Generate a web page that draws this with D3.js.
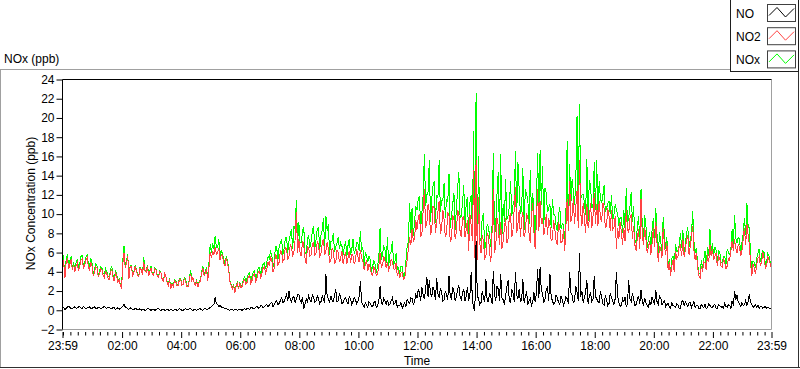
<!DOCTYPE html>
<html><head><meta charset="utf-8">
<script src="https://cdn.jsdelivr.net/npm/d3@7"></script>
<style>
html,body{margin:0;padding:0;background:#fff;}
svg{display:block;font-family:"Liberation Sans",Arial,sans-serif;}
</style></head><body>
<svg id="chart" width="800" height="369"></svg>
<script>
// Readings every 5 minutes from 23:59 to 23:59 next day (…Slot arrays),
// plus the readings half-way between two slots (…Half arrays).
const stepMinutes = 5;

const NOSlot = [
0.45,0.1,0.35,0.3,0.2,0.35,0.25,0.4,0.2,0.3,0.25,0.35,
0.2,0.35,0.15,0.3,0.2,0.4,0.2,0.3,0.15,0.25,0.2,0.1,
0.3,0.6,0.25,0.1,0.2,0.05,0.15,0.1,0.0,0.1,0.05,0.15,
0.0,0.1,0.05,0.15,-0.05,0.1,0.0,0.05,0.1,-0.05,0.1,0.05,
0.1,0.0,0.15,0.05,0.2,-0.1,0.1,0.05,0.15,0.0,0.2,0.1,
0.3,0.5,1.4,0.6,0.5,0.3,0.2,0.1,0.0,0.1,0.05,0.0,
0.1,0.0,0.15,0.2,0.1,0.3,0.2,0.4,0.3,0.5,0.35,0.6,
0.5,0.8,0.6,1.0,0.7,1.3,0.9,1.6,2.0,0.9,1.4,1.2,
1.7,0.8,0.1,1.2,1.5,0.9,1.4,1.0,1.2,0.9,1.1,3.8,
1.2,1.5,0.9,2.2,1.0,1.4,0.8,1.3,0.7,1.2,0.9,1.1,
0.9,3.0,0.6,0.8,0.3,0.7,0.4,0.9,0.5,2.5,0.6,1.0,
1.1,0.6,1.3,0.7,0.3,0.5,0.2,0.8,1.1,0.7,1.2,0.9,
1.3,1.8,2.4,1.2,3.5,3.1,1.4,2.0,3.3,1.3,1.9,1.1,
1.6,3.6,1.2,2.0,1.4,2.6,1.1,2.2,1.5,1.0,4.0,0.2,
7.2,1.2,0.8,1.3,3.2,0.9,1.4,4.1,1.0,2.2,3.8,1.1,
1.5,3.1,0.8,1.8,4.0,1.2,0.9,3.3,1.4,0.6,1.2,0.8,
0.9,4.3,4.5,1.8,1.2,2.4,3.8,1.0,0.7,1.3,0.6,1.1,
0.8,1.2,4.0,1.6,1.0,1.9,6.0,2.0,1.3,3.1,1.5,0.9,
3.6,1.2,0.8,1.4,0.5,1.1,0.7,1.3,0.6,4.0,0.8,0.5,
0.9,0.4,3.1,0.9,1.2,0.6,1.5,2.1,0.5,0.8,0.3,0.6,
1.0,2.1,0.6,1.3,0.8,0.4,0.7,0.2,0.5,0.3,0.6,0.2,
1.0,0.9,0.4,0.8,0.6,0.3,0.5,0.2,0.4,0.6,0.3,0.5,
0.3,0.6,0.2,0.5,0.4,0.7,0.3,0.5,1.0,2.0,1.6,0.7,
0.8,0.6,0.5,1.7,0.6,0.4,0.3,0.2,0.4,0.3,0.2,0.25,
0.3];

const NOHalf = [
0.25,0.2,0.4,0.15,0.3,0.2,0.35,0.25,0.4,0.15,0.3,0.2,
0.3,0.2,0.3,0.15,0.3,0.25,0.35,0.2,0.3,0.1,0.25,0.2,
0.45,0.35,0.15,0.25,0.1,0.2,0.05,0.15,0.1,0.0,0.15,0.05,
0.1,0.0,0.15,0.05,0.1,0.0,0.1,-0.05,0.05,0.1,0.0,0.15,
0.0,0.1,0.05,0.15,0.05,0.1,0.0,0.15,0.05,0.15,0.05,0.2,
0.4,0.6,0.7,0.4,0.35,0.25,0.15,0.05,0.1,0.0,0.1,0.05,
0.05,0.1,0.05,0.15,0.25,0.15,0.3,0.2,0.45,0.25,0.5,0.4,
0.7,0.4,0.9,0.6,1.0,0.8,1.2,1.0,1.1,1.3,0.8,1.6,
1.0,1.4,0.6,0.9,1.1,1.6,0.8,1.5,0.7,1.5,0.8,1.4,
0.8,1.0,1.6,0.9,1.7,0.7,1.2,0.9,1.4,0.6,1.3,0.7,
1.4,0.8,0.3,0.6,0.9,0.4,0.8,0.3,1.0,0.8,1.2,0.6,
0.5,1.0,0.6,1.1,0.5,0.8,0.5,0.4,0.9,1.3,0.6,1.6,
2.2,1.0,1.6,2.2,1.4,1.8,2.4,1.1,1.7,2.3,1.0,2.0,
1.1,1.4,2.4,1.0,2.2,1.4,1.8,1.0,2.4,1.6,1.2,0.0,
1.5,0.6,2.0,0.9,1.0,1.8,0.7,1.6,2.5,1.0,1.3,0.6,
2.4,1.0,2.2,0.9,1.6,2.2,1.0,0.8,2.0,1.0,0.5,1.9,
1.8,1.3,2.0,0.8,2.2,1.0,1.4,0.6,1.6,0.8,1.5,0.5,
1.4,0.7,1.8,0.8,2.5,1.0,1.4,0.8,1.9,0.7,1.8,1.2,
1.4,0.9,2.0,0.7,1.6,0.5,1.8,0.9,1.2,1.5,0.4,1.2,
1.4,0.7,1.2,1.8,0.5,1.1,0.7,0.9,1.3,0.5,0.9,1.4,
0.6,0.9,1.5,0.6,1.0,0.6,0.3,0.8,0.4,0.7,0.2,0.9,
0.5,0.6,0.8,0.3,0.9,0.5,0.2,0.6,0.3,0.2,0.7,0.3,
0.5,0.2,0.6,0.3,0.2,0.4,0.6,0.2,0.5,1.1,0.8,0.4,
0.5,1.0,0.9,0.8,0.3,0.6,0.5,0.4,0.2,0.4,0.3,0.2];

const NO2Slot = [
5.6,3.4,5.4,4.8,4.2,4.0,4.9,4.6,5.3,4.7,5.5,4.2,
4.6,3.9,4.4,3.7,4.2,3.4,3.8,3.2,4.3,3.0,3.6,3.2,
2.2,6.0,4.9,3.3,4.5,3.9,4.1,3.5,4.2,5.0,4.0,3.6,
4.4,3.6,4.2,3.4,3.9,3.0,3.5,2.6,2.2,2.5,3.0,2.6,
3.2,2.7,3.0,2.4,3.8,3.4,2.6,2.4,3.0,4.4,3.8,3.1,
6.1,6.2,6.6,6.0,5.2,5.6,4.6,5.0,3.0,2.2,1.8,2.8,
2.8,2.5,3.2,2.9,3.6,3.1,3.8,3.3,4.0,3.8,4.5,4.3,
4.6,5.3,4.4,5.6,5.0,6.0,5.3,6.4,5.6,6.6,6.0,10.2,
7.4,5.6,6.8,4.8,6.5,5.8,7.0,6.0,6.8,5.9,7.4,6.2,
6.4,5.2,6.2,5.0,6.0,5.4,4.8,6.1,5.5,4.9,5.7,5.2,
5.6,6.3,5.2,4.7,4.1,4.4,3.6,4.2,3.8,6.0,4.7,5.1,
5.0,4.5,5.1,4.2,3.6,3.4,3.9,3.3,5.2,7.6,8.4,7.4,
8.4,10.0,8.0,12.6,9.0,10.2,8.4,10.6,9.2,11.4,8.6,9.4,
8.0,9.8,7.4,9.6,8.2,10.0,7.6,9.8,8.4,6.2,8.8,14.6,
15.6,11.8,6.0,7.2,5.6,7.8,5.0,12.6,6.6,8.8,9.2,7.2,
9.6,7.4,10.0,8.4,12.8,9.0,7.6,10.2,8.2,9.8,7.0,11.2,
6.4,12.6,11.4,9.6,8.6,7.8,8.8,7.4,8.4,6.8,8.6,7.2,
6.2,11.6,13.4,9.8,9.0,12.4,15.6,8.8,9.6,11.0,9.4,8.6,
12.2,11.0,11.4,9.2,10.6,8.8,9.8,10.4,8.6,6.4,7.4,8.2,
8.6,10.4,8.0,10.0,8.8,6.2,8.4,11.6,6.8,7.4,6.6,5.8,
8.6,9.2,5.0,6.4,8.6,5.8,4.2,3.6,5.2,6.2,5.6,6.8,
7.4,6.2,7.8,6.6,8.8,5.2,4.4,3.4,4.0,4.9,5.8,6.8,
6.4,5.6,4.6,5.4,4.5,5.0,4.6,5.2,7.2,7.4,6.0,6.6,
6.2,8.6,9.0,6.8,3.6,4.4,4.8,5.6,5.0,5.4,4.6,5.2,
4.4];

const NO2Half = [
4.8,5.0,4.3,5.3,4.7,4.6,4.1,5.2,4.4,5.2,4.5,5.0,
3.6,4.5,3.5,4.3,3.6,4.0,3.3,3.9,3.5,3.9,2.9,2.6,
4.8,4.4,5.6,4.6,3.6,4.6,3.6,4.4,3.7,4.1,4.6,4.0,
3.7,4.3,3.5,4.0,3.2,3.8,2.9,3.2,2.7,3.1,2.5,3.2,
2.6,3.3,2.5,3.1,3.1,2.8,3.0,2.9,3.8,3.6,4.3,4.5,
5.4,5.8,5.8,6.5,5.8,4.9,5.4,4.2,2.6,2.6,2.4,2.2,
2.3,3.0,2.7,3.5,2.8,3.7,3.0,4.0,3.4,4.4,3.9,5.0,
5.5,4.0,5.8,4.7,6.2,5.1,6.5,5.2,6.8,5.6,7.4,6.0,
6.0,7.2,5.4,6.6,5.6,6.9,5.7,7.2,5.6,7.0,5.8,7.1,
5.0,6.4,4.9,6.3,5.0,6.2,5.6,4.8,6.2,5.8,4.8,6.4,
5.0,5.4,4.2,5.2,4.8,3.7,4.5,3.6,4.6,4.5,5.6,4.4,
4.2,5.3,4.3,4.9,4.0,3.9,3.2,4.4,6.4,6.8,7.2,9.4,
9.6,7.6,10.4,8.6,11.0,7.8,10.8,8.0,10.2,7.9,10.4,7.6,
10.2,7.2,9.8,7.4,10.4,8.2,9.6,7.6,9.4,10.0,7.2,5.4,
5.2,7.0,7.8,5.4,8.0,6.0,8.2,6.0,9.6,6.8,6.4,8.6,
7.0,9.8,7.6,10.6,8.0,10.4,9.4,7.6,10.0,8.0,9.6,8.2,
9.2,8.2,9.0,7.8,10.0,9.6,7.2,9.4,7.2,9.2,7.0,8.4,
8.8,8.2,9.2,11.6,10.8,8.6,10.2,11.2,8.0,8.6,11.2,9.8,
9.0,8.8,9.6,11.2,8.6,10.6,8.2,8.4,9.8,8.6,9.2,6.8,
7.2,8.4,9.6,7.4,6.8,7.6,6.4,8.0,8.6,6.0,7.2,7.0,
6.6,7.0,6.6,5.4,6.8,7.0,5.0,4.6,4.0,5.4,6.6,5.6,
5.6,7.4,5.8,7.6,6.2,6.0,3.6,4.6,5.0,4.2,5.0,5.6,
5.2,6.0,5.6,4.6,5.4,4.3,5.4,6.2,6.2,6.4,6.8,5.6,
7.4,6.8,7.8,4.8,4.8,3.8,5.4,4.6,6.0,4.4,5.6,4.8];

const NOxSlot = [
6.2,3.6,5.8,5.2,4.4,4.3,5.3,4.9,5.7,5.0,5.8,4.6,
4.9,4.3,4.6,4.0,4.4,3.8,4.0,3.5,4.6,3.2,3.8,3.3,
2.5,6.7,5.2,3.4,4.7,4.0,4.3,3.6,4.2,5.5,4.1,3.8,
4.6,3.7,4.3,3.6,3.9,3.1,3.5,2.7,2.3,2.5,3.1,2.7,
3.3,2.7,3.2,2.5,4.2,3.4,2.7,2.5,3.2,4.6,4.0,3.2,
6.9,7.0,7.7,6.5,5.5,5.8,4.8,5.2,3.1,2.3,1.9,2.9,
2.9,2.7,3.5,3.4,3.9,3.6,4.1,3.7,4.4,4.4,4.9,5.0,
5.4,5.8,5.0,6.6,6.6,7.4,6.4,7.6,7.2,8.4,8.8,11.5,
9.2,7.0,8.6,5.8,7.8,7.2,8.8,7.4,8.6,7.8,9.6,9.8,
9.0,7.2,8.0,6.6,7.6,7.0,5.8,7.2,6.8,5.8,7.4,6.3,
7.0,8.2,6.6,6.0,5.0,5.3,4.6,4.8,4.6,8.6,5.8,6.3,
7.6,5.8,7.2,5.0,4.2,3.8,4.6,3.6,6.6,11.2,10.6,9.2,
10.4,11.8,10.2,16.2,12.0,15.6,11.6,13.4,12.0,15.6,11.4,13.2,
11.6,14.2,9.8,12.2,10.6,14.4,9.8,13.0,11.2,7.0,12.0,18.6,
22.6,16.0,7.2,10.0,7.0,8.6,6.6,16.4,9.0,14.4,16.2,11.0,
13.6,9.8,13.4,11.0,16.6,15.4,10.0,14.8,12.6,11.6,14.6,12.2,
7.4,16.4,16.7,15.0,12.7,10.2,11.0,11.6,10.0,8.2,10.7,9.0,
7.4,17.6,15.2,13.6,11.0,20.2,21.4,12.0,11.2,15.7,13.5,10.6,
15.4,15.6,13.4,11.2,13.0,10.6,11.4,12.0,10.0,10.4,8.8,9.6,
10.4,12.7,9.6,12.3,10.8,7.0,9.8,12.6,7.6,8.8,7.4,6.4,
9.6,10.6,5.6,7.2,9.7,6.4,4.6,3.9,5.6,6.9,6.2,8.0,
8.3,6.8,8.6,7.4,10.3,6.0,4.8,3.8,4.4,6.2,6.6,8.4,
7.0,6.6,5.0,6.0,5.0,5.6,6.4,5.8,8.4,9.9,7.0,7.4,
7.0,9.6,11.2,8.6,4.2,5.0,5.4,6.4,5.8,6.0,5.0,5.6,
4.8];

const NOxHalf = [
5.1,5.4,4.6,5.6,5.0,4.9,4.4,5.6,4.6,5.5,4.8,5.4,
3.8,4.8,3.7,4.5,3.8,4.3,3.5,4.2,3.7,4.1,3.0,2.7,
5.2,4.6,5.8,4.7,3.7,4.7,3.7,4.5,3.8,4.2,4.7,4.1,
3.8,4.4,3.6,4.1,3.3,3.9,3.0,3.3,2.8,3.2,2.6,3.3,
2.7,3.4,2.6,3.2,3.3,2.9,3.1,3.0,3.9,3.8,4.5,4.9,
6.0,6.4,6.6,7.4,6.3,5.3,5.6,4.4,2.7,2.7,2.5,2.3,
2.4,3.2,2.9,3.8,3.0,4.0,3.3,4.4,3.7,4.8,4.3,5.6,
6.1,4.5,6.6,5.2,7.0,5.8,7.5,6.0,7.8,6.4,8.4,6.9,
7.0,8.3,6.1,7.4,6.5,8.2,6.4,8.5,6.2,8.3,6.5,8.3,
5.8,7.2,6.1,7.0,6.4,6.7,6.6,5.6,7.4,6.3,5.9,7.0,
6.2,6.1,4.5,5.7,5.6,4.0,5.2,3.9,5.5,5.2,6.6,4.9,
4.6,6.1,4.8,5.9,4.4,4.6,3.4,5.1,7.2,8.0,7.7,10.8,
11.6,8.6,12.0,10.8,12.3,9.2,12.9,9.1,11.7,10.2,11.4,9.6,
11.3,8.6,11.0,8.4,12.6,9.6,11.2,8.6,11.8,11.2,8.4,5.4,
6.7,7.6,9.8,6.3,9.0,7.8,8.9,7.6,12.1,7.8,7.7,9.2,
9.4,10.8,9.8,11.5,9.6,12.6,10.4,8.4,12.0,9.0,10.1,10.1,
11.0,9.5,11.0,8.6,12.2,10.6,8.6,10.0,8.8,10.0,8.5,8.9,
10.2,8.9,11.0,12.4,13.3,9.6,11.6,12.0,9.9,9.3,13.0,11.0,
10.4,9.7,11.6,11.9,10.2,11.1,10.0,9.3,11.0,10.1,9.6,8.0,
8.6,9.1,10.8,9.2,7.3,8.7,7.1,8.9,9.9,6.5,8.1,8.4,
7.2,7.9,8.1,6.0,7.8,7.6,5.3,5.4,4.4,6.1,6.8,6.5,
6.1,8.0,6.6,7.9,7.1,6.5,3.8,5.2,5.3,4.4,5.7,5.9,
5.7,6.2,6.2,4.9,5.6,4.7,6.0,6.4,6.7,7.5,7.6,6.0,
7.9,7.8,8.7,5.6,5.1,4.4,5.9,5.0,6.2,4.8,5.9,5.0];

const seriesNames = ["NO","NO2","NOx"];
const xTickLabels = ["23:59","02:00","04:00","06:00","08:00","10:00","12:00","14:00","16:00","18:00","20:00","22:00","23:59"];
const xTickMinutes = [0,121,241,361,481,601,721,841,961,1081,1201,1321,1440];
const yTicks = [-2,0,2,4,6,8,10,12,14,16,18,20,22,24];

const colors = {NO:"#000000", NO2:"#ff4343", NOx:"#00ff00"};

// merge slot readings and half-way readings into one time-ordered series
function merge(slot, half){
  const out = [];
  slot.forEach((v,i)=>{
    out.push({t:i*stepMinutes, v:v});
    if (i < half.length) out.push({t:i*stepMinutes + stepMinutes/2, v:half[i]});
  });
  return out;
}
const series = {NO:merge(NOSlot,NOHalf), NO2:merge(NO2Slot,NO2Half), NOx:merge(NOxSlot,NOxHalf)};

const svg = d3.select("#chart");
const x = d3.scaleLinear().domain([0,1440]).range([62.5,771.5]);
const y = d3.scaleLinear().domain([-2,24]).range([329.5,79.5]);

// outer panel
svg.append("line").attr("x1",0.5).attr("x2",0.5).attr("y1",69.5).attr("y2",367.5).attr("stroke","#a0a0a0");
svg.append("line").attr("x1",0).attr("x2",731).attr("y1",69.5).attr("y2",69.5).attr("stroke","#a0a0a0");
svg.append("line").attr("x1",0).attr("x2",800).attr("y1",367.5).attr("y2",367.5).attr("stroke","#303030");
svg.append("line").attr("x1",798.5).attr("x2",798.5).attr("y1",69.5).attr("y2",368).attr("stroke","#303030");

// plot frame
svg.append("line").attr("x1",771.5).attr("x2",771.5).attr("y1",79.5).attr("y2",329.5).attr("stroke","#a0a0a0");
svg.append("line").attr("x1",62.5).attr("x2",771.5).attr("y1",329.5).attr("y2",329.5).attr("stroke","#a0a0a0");

svg.append("clipPath").attr("id","clip").append("rect").attr("x",63).attr("y",80).attr("width",708).attr("height",249);

const plot = svg.append("g").attr("clip-path","url(#clip)");
const line = d3.line().x(d=>x(d.t)).y(d=>y(d.v));
["NOx","NO2","NO"].forEach(name=>{
  plot.append("path").datum(series[name]).attr("d",line).attr("fill","none")
    .attr("stroke",colors[name]).attr("stroke-width",1).attr("shape-rendering","crispEdges");
});

svg.append("line").attr("x1",62.5).attr("x2",771.5).attr("y1",79.5).attr("y2",79.5).attr("stroke","#000");
svg.append("line").attr("x1",62.5).attr("x2",62.5).attr("y1",79.5).attr("y2",329.5).attr("stroke","#000");

// y axis
const yAxis = svg.append("g").attr("transform","translate(62.5,0)")
  .call(d3.axisLeft(y).tickValues(yTicks).tickSize(6).tickPadding(2));
yAxis.select(".domain").remove();
yAxis.selectAll("text").attr("font-size",12).attr("font-family","Liberation Sans, Arial, sans-serif").attr("fill","#000");

// x axis (major)
const xAxis = svg.append("g").attr("transform","translate(0,332)")
  .call(d3.axisBottom(x).tickValues(xTickMinutes).tickFormat((d,i)=>xTickLabels[i]).tickSize(6).tickPadding(3));
xAxis.select(".domain").remove();
xAxis.selectAll("text").attr("font-size",12).attr("font-family","Liberation Sans, Arial, sans-serif").attr("fill","#000");

// x axis (minor every 15 min, clock aligned)
const minorTicks = d3.range(1, 1440, 15).filter(m => !xTickMinutes.includes(m));
const xMinor = svg.append("g").attr("transform","translate(0,332)")
  .call(d3.axisBottom(x).tickValues(minorTicks).tickFormat("").tickSize(3.5));
xMinor.select(".domain").remove();

// titles
svg.append("text").attr("x",4).attr("y",62.5).attr("font-size",12).text("NOx (ppb)");
svg.append("text").attr("x",417).attr("y",365).attr("text-anchor","middle").attr("font-size",12).text("Time");
svg.append("text").attr("transform","translate(35,203.5) rotate(-90)").attr("text-anchor","middle").attr("font-size",12).text("NOx Concentration (ppb)");

// legend
const lg = svg.append("g");
lg.append("rect").attr("x",730.5).attr("y",-0.5).attr("width",68).attr("height",72).attr("fill","#fff").attr("stroke","#1e1e1e");
const zig = d3.line();
seriesNames.forEach((name,i)=>{
  const oy = i*23.2;
  lg.append("text").attr("x",736).attr("y",17.5+oy).attr("font-size",12).attr("fill","#000").text(name);
  lg.append("rect").attr("x",767.5).attr("y",4.5+oy).attr("width",28).attr("height",17).attr("fill","#fff").attr("stroke","#404040");
  lg.append("path").attr("d",zig([[769,15.5+oy],[777,7.5+oy],[785.5,17+oy],[794,8.5+oy]]))
    .attr("fill","none").attr("stroke",colors[name]).attr("stroke-width",1);
});
</script>
</body></html>
